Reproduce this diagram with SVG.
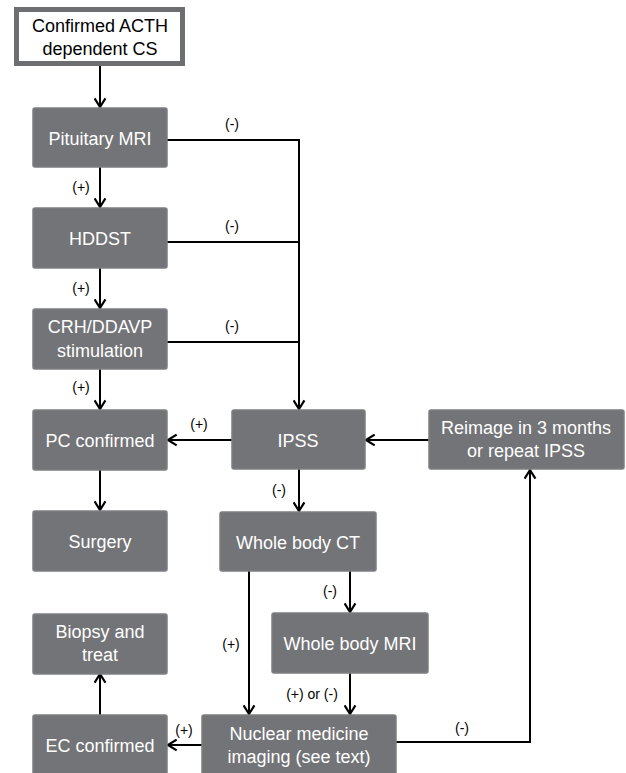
<svg xmlns="http://www.w3.org/2000/svg" width="626" height="773" viewBox="0 0 626 773">
<style>
.box{fill:#737477;stroke:#7d7e81;stroke-width:1.5}
.t{font-family:"Liberation Sans",Arial,sans-serif;font-size:18px;fill:#ffffff;text-anchor:middle}
.tb{font-family:"Liberation Sans",Arial,sans-serif;font-size:18px;fill:#000000;text-anchor:middle}
.l{font-family:"Liberation Sans",Arial,sans-serif;font-size:14px;fill:#000000;text-anchor:middle}
.c{fill:none;stroke:#000;stroke-width:2}
</style>
<defs>
<marker id="ah" viewBox="0 0 12 12" refX="11" refY="6" markerWidth="13" markerHeight="13" markerUnits="userSpaceOnUse" orient="auto">
<path d="M3,1 L11,6 L3,11" fill="none" stroke="#000" stroke-width="2"/>
</marker>
</defs>
<rect width="626" height="773" fill="#ffffff"/>
<g id="connectors">
<path class="c" d="M100,66 V107" marker-end="url(#ah)"/>
<path class="c" d="M100,167 V207" marker-end="url(#ah)"/>
<path class="c" d="M100,268 V308" marker-end="url(#ah)"/>
<path class="c" d="M100,369 V409" marker-end="url(#ah)"/>
<path class="c" d="M100,470 V510" marker-end="url(#ah)"/>
<path class="c" d="M167,140 H299 V409" marker-end="url(#ah)"/>
<path class="c" d="M167,242 H299"/>
<path class="c" d="M167,342 H299"/>
<path class="c" d="M232,440 H168" marker-end="url(#ah)"/>
<path class="c" d="M429,440 H366" marker-end="url(#ah)"/>
<path class="c" d="M299,469 V511" marker-end="url(#ah)"/>
<path class="c" d="M249,571 V714" marker-end="url(#ah)"/>
<path class="c" d="M350,571 V612" marker-end="url(#ah)"/>
<path class="c" d="M350,673 V714" marker-end="url(#ah)"/>
<path class="c" d="M396,742 H530 V470" marker-end="url(#ah)"/>
<path class="c" d="M202,745 H168" marker-end="url(#ah)"/>
<path class="c" d="M100,715 V674" marker-end="url(#ah)"/>
<text class="l" x="232" y="129">(-)</text>
<text class="l" x="232" y="231">(-)</text>
<text class="l" x="232" y="331">(-)</text>
<text class="l" x="81" y="192">(+)</text>
<text class="l" x="81" y="293">(+)</text>
<text class="l" x="81" y="392">(+)</text>
<text class="l" x="199" y="429">(+)</text>
<text class="l" x="279" y="495">(-)</text>
<text class="l" x="330" y="596">(-)</text>
<text class="l" x="231" y="649">(+)</text>
<text class="l" x="312" y="699">(+) or (-)</text>
<text class="l" x="462" y="733">(-)</text>
<text class="l" x="184" y="735">(+)</text>
</g>
<g id="n_start">
<rect x="16.5" y="9.5" width="166" height="54" fill="#ffffff" stroke="#6d6e70" stroke-width="5"/>
<text class="tb" x="100" y="32">Confirmed ACTH</text>
<text class="tb" x="100" y="55">dependent CS</text>
</g>
<g id="n_pit"><rect class="box" x="33" y="108" width="134" height="59" rx="2"/><text class="t" x="100" y="145">Pituitary MRI</text></g>
<g id="n_hddst"><rect class="box" x="33" y="208" width="134" height="60" rx="2"/><text class="t" x="100" y="245">HDDST</text></g>
<g id="n_crh"><rect class="box" x="33" y="309" width="134" height="60" rx="2"/><text class="t" x="100" y="333">CRH/DDAVP</text><text class="t" x="100" y="357">stimulation</text></g>
<g id="n_pc"><rect class="box" x="33" y="410" width="134" height="60" rx="2"/><text class="t" x="100" y="447">PC confirmed</text></g>
<g id="n_surg"><rect class="box" x="33" y="511" width="134" height="60" rx="2"/><text class="t" x="100" y="548">Surgery</text></g>
<g id="n_ipss"><rect class="box" x="232" y="410" width="133" height="59" rx="2"/><text class="t" x="298" y="447">IPSS</text></g>
<g id="n_reimage"><rect class="box" x="429" y="410" width="195" height="59" rx="2"/><text class="t" x="526" y="434">Reimage in 3 months</text><text class="t" x="526" y="457">or repeat IPSS</text></g>
<g id="n_ct"><rect class="box" x="220" y="512" width="156" height="59" rx="2"/><text class="t" x="298" y="549">Whole body CT</text></g>
<g id="n_mri"><rect class="box" x="272" y="613" width="156" height="60" rx="2"/><text class="t" x="350" y="650">Whole body MRI</text></g>
<g id="n_biopsy"><rect class="box" x="33" y="614" width="134" height="60" rx="2"/><text class="t" x="100" y="638">Biopsy and</text><text class="t" x="100" y="661">treat</text></g>
<g id="n_ec"><rect class="box" x="33" y="715" width="134" height="60" rx="2"/><text class="t" x="100" y="752">EC confirmed</text></g>
<g id="n_nuc"><rect class="box" x="202" y="715" width="194" height="60" rx="2"/><text class="t" x="299" y="740">Nuclear medicine</text><text class="t" x="299" y="763">imaging (see text)</text></g>
</svg>
